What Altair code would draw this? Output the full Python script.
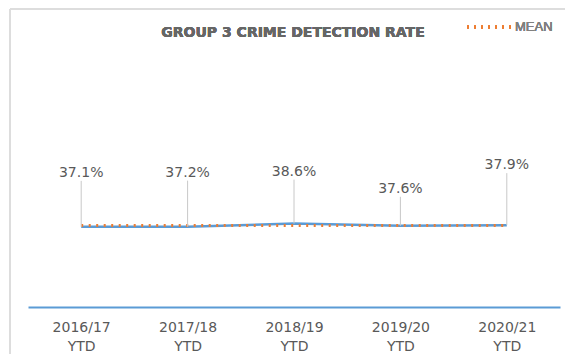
import altair as alt
import pandas as pd

# ---- data ----
categories = ["2016/17 YTD", "2017/18 YTD", "2018/19 YTD", "2019/20 YTD", "2020/21 YTD"]
rates = [0.371, 0.372, 0.386, 0.376, 0.379]
labels = ["37.1%", "37.2%", "38.6%", "37.6%", "37.9%"]
# layout only: how far (px) each data label sits above its point
label_lift_px = [54, 54, 52, 37, 60]

W, H = 532, 216
df = pd.DataFrame({
    "cat": categories,
    "rate": rates,
    "label": labels,
    "label_y": [r + l / H for r, l in zip(rates, label_lift_px)],
    "lead_top": [r + (l - 8) / H for r, l in zip(rates, label_lift_px)],
})

GRAY = "#595959"
BLUE = "#5b9bd5"
ORANGE = "#ed7d31"
FONT = "DejaVu Sans"

xenc = alt.X("cat:N", sort=categories,
             scale=alt.Scale(type="point", padding=0.5),
             axis=alt.Axis(title=None, labelAngle=0, ticks=False, domainColor=BLUE,
                           domainWidth=2, labelColor=GRAY, labelFont=FONT, labelFontSize=14,
                           labelPadding=13, labelLineHeight=19,
                           labelExpr="split(datum.label, ' ')"))
yscale = alt.Scale(domain=[0, 1], nice=False, zero=True)

base = alt.Chart(df)

line = base.mark_line(color=BLUE, strokeWidth=2.5).encode(
    x=xenc, y=alt.Y("rate:Q", scale=yscale, axis=None))

mean = base.transform_joinaggregate(m="mean(rate)").mark_line(
    color=ORANGE, strokeWidth=3, strokeDash=[2, 5.5]).encode(
    x=alt.X("cat:N", sort=categories), y=alt.Y("m:Q"))

leaders = base.mark_rule(color="#c8c8c8", strokeWidth=1).encode(
    x=alt.X("cat:N", sort=categories), y="rate:Q", y2="lead_top:Q")

text = base.mark_text(font=FONT, fontSize=14, color=GRAY, baseline="middle").encode(
    x=alt.X("cat:N", sort=categories), y="label_y:Q", text="label:N")

# frame lines, title and legend (decoration)
frame_top = alt.Chart(df).mark_rule(color="#dcdcdc", strokeWidth=1.5).encode(
    x=alt.value(-18), x2=alt.value(560), y=alt.value(-82))
frame_left = alt.Chart(df).mark_rule(color="#dcdcdc", strokeWidth=1.5).encode(
    x=alt.value(-18), y=alt.value(-82), y2=alt.value(280))
title = alt.Chart(df).mark_text(font=FONT, fontSize=14, fontWeight="bold", color="#666666",
                                align="center", baseline="middle").encode(
    x=alt.value(265), y=alt.value(-58), text=alt.value("GROUP 3 CRIME DETECTION RATE"))
leg_line = alt.Chart(df).mark_rule(color=ORANGE, strokeWidth=3, strokeDash=[2, 5]).encode(
    x=alt.value(439), x2=alt.value(484), y=alt.value(-64))
leg_text = alt.Chart(df).mark_text(font="Liberation Sans", fontSize=13, color="#808080",
                                   align="left", baseline="middle").encode(
    x=alt.value(487), y=alt.value(-64), text=alt.value("MEAN"))

chart = alt.layer(frame_top, frame_left, line, mean, leaders, text, title, leg_line, leg_text).properties(
    width=W, height=H,
    background="white",
    autosize=alt.AutoSizeParams(type="none"),
    padding={"left": 20, "top": 83, "right": 5, "bottom": 47},
).configure_view(strokeWidth=0, stroke="transparent")

chart.save("out.html", embed_options={"renderer": "svg", "actions": False})
